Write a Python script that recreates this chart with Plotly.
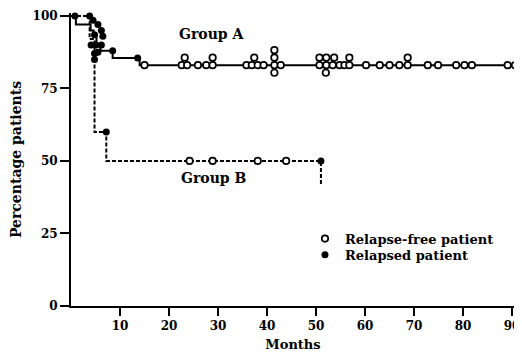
import plotly.graph_objects as go

# ---- Data ----
# Kaplan-Meier step curves (months, percentage of patients relapse-free)
group_a_months = [0, 1.0, 4.0, 4.6, 5.2, 6.0, 8.5, 14.0, 91.0]
group_a_pct = [100, 97, 95, 93, 90, 88, 85.5, 83, 83]

group_b_months = [0, 3.8, 4.8, 7.2, 51.0, 51.0]
group_b_pct = [100, 92, 60, 50, 50, 42]

# Relapse-free (censored) patients, ties stacked vertically as in the original
relapse_free_months = [
    15.0,
    22.6, 23.2, 23.7,
    25.9,
    27.6, 28.9, 28.9,
    35.8, 36.9, 37.4, 38.1, 39.3,
    41.5, 41.5, 41.5, 41.5, 42.8,
    50.7, 50.7, 52.1, 52.1, 52.0, 53.4, 53.7, 54.8, 55.8, 56.8, 56.8,
    60.2, 63.0,
    65.0, 67.0, 68.7, 68.7,
    72.8, 74.9,
    78.6, 80.3, 81.8,
    89.1, 90.6,
    24.2, 28.9, 38.1, 43.9,
]
relapse_free_pct = [
    83,
    83, 85.6, 83,
    83,
    83, 83, 85.6,
    83, 83, 85.6, 83, 83,
    88.2, 85.6, 83, 80.4, 83,
    85.6, 83, 85.6, 83, 80.4, 83, 85.6, 83, 83, 85.6, 83,
    83, 83,
    83, 83, 83, 85.6,
    83, 83,
    83, 83, 83,
    83, 83,
    50, 50, 50, 50,
]

# Relapsed patients
relapsed_months = [0.8, 3.8, 4.5, 5.5, 6.2, 6.5, 4.1, 5.1, 6.2, 4.8, 5.5, 4.8, 4.8,
                   8.5, 13.6, 7.2, 51.0]
relapsed_pct = [100, 100, 98.5, 97, 95, 93, 90, 90, 90, 93.5, 87.5, 87, 85,
                88, 85.5, 60, 50]

x_ticks = [10, 20, 30, 40, 50, 60, 70, 80, 90]
y_ticks = [0, 25, 50, 75, 100]

group_labels = ["Group A", "Group B"]
group_label_months = [28.7, 29.2]
group_label_pct = [93.7, 44]

FONT = "DejaVu Serif"

fig = go.Figure()

fig.add_trace(go.Scatter(
    x=group_a_months, y=group_a_pct, mode="lines", line_shape="hv",
    line=dict(color="black", width=2), showlegend=False, hoverinfo="skip"))
fig.add_trace(go.Scatter(
    x=group_b_months, y=group_b_pct, mode="lines", line_shape="hv",
    line=dict(color="black", width=2, dash="4px,2px"), showlegend=False,
    hoverinfo="skip"))

fig.add_trace(go.Scatter(
    x=relapse_free_months, y=relapse_free_pct, mode="markers",
    name="Relapse-free patient", cliponaxis=False, legend="legend",
    marker=dict(symbol="circle", size=6.5, color="white",
                line=dict(color="black", width=1.7))))
fig.add_trace(go.Scatter(
    x=relapsed_months, y=relapsed_pct, mode="markers",
    name="Relapsed patient", cliponaxis=False, legend="legend2",
    marker=dict(symbol="circle", size=7, color="black",
                line=dict(color="black", width=0))))

for txt, mx, my in zip(group_labels, group_label_months, group_label_pct):
    fig.add_annotation(x=mx, y=my, xref="x", yref="y", text=txt,
                       showarrow=False, font=dict(family=FONT, size=14,
                                                  color="black", weight="bold"))

legend_style = dict(xanchor="left", yanchor="top", bgcolor="rgba(0,0,0,0)",
                    borderwidth=0, itemwidth=30, tracegroupgap=0,
                    font=dict(family=FONT, size=13, color="black", weight="bold"))

# The page body has an 8px default margin; size the figure to fill the window.
fig.update_layout(
    width=514, height=344,
    margin=dict(l=63, r=7, t=5, b=46),
    paper_bgcolor="white", plot_bgcolor="white",
    font=dict(family=FONT, size=12, color="black", weight="bold"),
    legend=dict(x=0.527, y=0.281, **legend_style),
    legend2=dict(x=0.527, y=0.226, **legend_style),
)

fig.update_xaxes(
    range=[0, 90.6], tickvals=x_ticks, ticktext=[str(v) for v in x_ticks],
    ticks="outside", ticklen=8, tickwidth=2, tickcolor="black",
    showline=True, linecolor="black", linewidth=2, showgrid=False,
    zeroline=False, automargin=False,
    title=dict(text="Months", standoff=10,
               font=dict(family=FONT, size=13, weight="bold")),
    tickfont=dict(family=FONT, size=12, weight="bold"),
)
fig.update_yaxes(
    range=[0, 101], tickvals=y_ticks, ticktext=[str(v) for v in y_ticks],
    ticks="outside", ticklen=9, tickwidth=2, tickcolor="black",
    showline=True, linecolor="black", linewidth=2, showgrid=False,
    zeroline=False, automargin=False,
    title=dict(text="Percentage patients", standoff=8,
               font=dict(family=FONT, size=14, weight="bold")),
    tickfont=dict(family=FONT, size=12, weight="bold"),
)

fig.write_html("out.html")
